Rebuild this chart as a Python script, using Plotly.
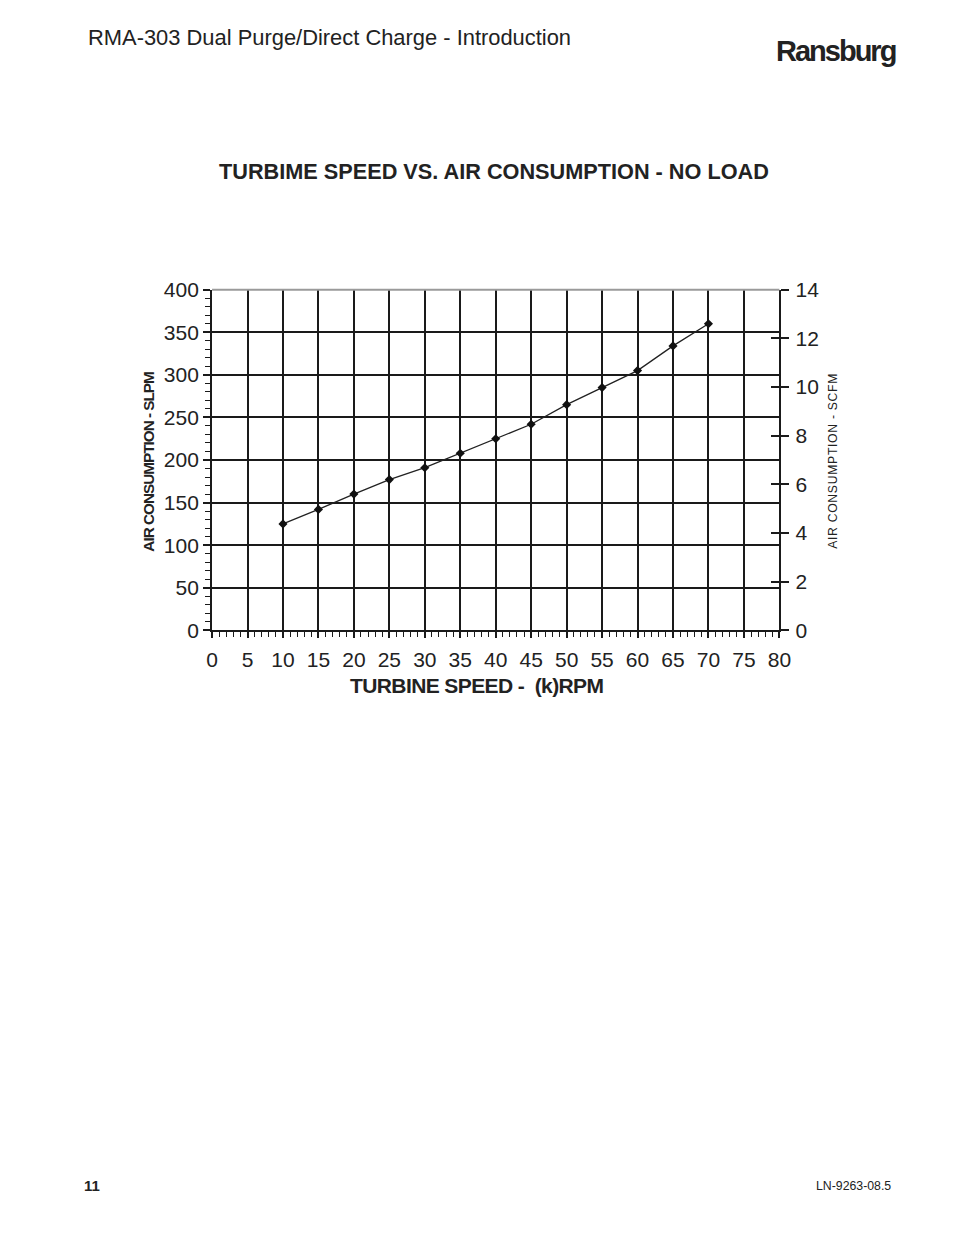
import plotly.graph_objects as go

speed_krpm = [10, 15, 20, 25, 30, 35, 40, 45, 50, 55, 60, 65, 70]
air_slpm = [125, 142, 160, 177, 191, 208, 225, 242, 265, 285, 305, 334, 360]

x_ticks = list(range(0, 85, 5))
y_left_ticks = list(range(0, 450, 50))
y_right_ticks = list(range(0, 16, 2))

FONT = "Liberation Sans, Arial, sans-serif"

W, H = 938, 1219
S = 0.982          # observed screenshot scale
BX, BY = 13.7, 19.1  # observed screenshot offsets


def px(x):
    return ((x - BX) / S) / W


def py(y):
    return 1 - ((y - BY) / S) / H


x0, x1 = px(212), px(780)
y0, y1 = py(630), py(289)

fig = go.Figure()
fig.add_trace(go.Scatter(
    x=speed_krpm, y=air_slpm, mode="lines+markers",
    line=dict(color="#222222", width=1.3),
    marker=dict(symbol="diamond", size=7, color="#111111"),
    showlegend=False, cliponaxis=False,
))
# invisible traces to activate the right axes
fig.add_trace(go.Scatter(x=[0], y=[0], yaxis="y2", mode="markers",
                         marker=dict(opacity=0), showlegend=False, hoverinfo="skip"))
fig.add_trace(go.Scatter(x=[0], y=[0], yaxis="y3", mode="markers",
                         marker=dict(opacity=0), showlegend=False, hoverinfo="skip"))

fig.update_layout(
    width=W, height=H, margin=dict(l=0, r=0, t=0, b=0),
    paper_bgcolor="white", plot_bgcolor="white",
    font=dict(family=FONT, color="#222222"),
    xaxis=dict(
        domain=[x0, x1], range=[0, 80], tickvals=x_ticks,
        showgrid=True, gridcolor="#1a1a1a", gridwidth=2,
        showline=True, linecolor="#1a1a1a", linewidth=2,
        ticks="outside", ticklen=6, tickwidth=1.5, tickcolor="#1a1a1a",
        minor=dict(dtick=1, ticks="outside", ticklen=5, tickwidth=1.2,
                   tickcolor="#1a1a1a", showgrid=False),
        tickfont=dict(family=FONT, size=21, color="#222222"),
        ticklabelstandoff=3,
        zeroline=False, anchor="y",
    ),
    yaxis=dict(
        domain=[y0, y1], range=[0, 400], tickvals=y_left_ticks,
        showgrid=True, gridcolor="#1a1a1a", gridwidth=2,
        showline=True, linecolor="#1a1a1a", linewidth=2,
        ticks="outside", ticklen=7, tickwidth=1.5, tickcolor="#1a1a1a",
        minor=dict(dtick=10, ticks="outside", ticklen=5, tickwidth=1.2,
                   tickcolor="#1a1a1a", showgrid=False),
        tickfont=dict(family=FONT, size=21, color="#222222"),
        zeroline=False, anchor="x",
    ),
    yaxis2=dict(
        domain=[y0, y1], range=[0, 14], tickvals=y_right_ticks,
        overlaying="y", side="right", anchor="x",
        showgrid=False, zeroline=False,
        showline=True, linecolor="#1a1a1a", linewidth=2,
        ticks="outside", ticklen=8, tickwidth=1.5, tickcolor="#1a1a1a",
        tickfont=dict(family=FONT, size=21, color="#222222"),
        ticklabelstandoff=2,
    ),
    yaxis3=dict(
        domain=[y0, y1], range=[0, 14], tickvals=y_right_ticks,
        overlaying="y", side="right", anchor="x",
        showgrid=False, zeroline=False, showticklabels=False,
        ticks="inside", ticklen=8, tickwidth=1.5, tickcolor="#1a1a1a",
    ),
    shapes=[
        dict(type="line", xref="paper", yref="paper", x0=x0, x1=x1, y0=y1, y1=y1,
             line=dict(color="#9a9a9a", width=2)),
    ],
)

ann = [
    dict(text="RMA-303 Dual Purge/Direct Charge - Introduction", x=px(86), y=py(37),
         xanchor="left", yanchor="middle", font=dict(family=FONT, size=21.9, color="#222222")),
    dict(text="<span style='letter-spacing:-2px'><b>Ransburg</b></span>", x=px(899), y=py(50),
         xanchor="right", yanchor="middle", font=dict(family=FONT, size=29, color="#222222")),
    dict(text="<b>TURBIME SPEED VS. AIR CONSUMPTION - NO LOAD</b>", x=px(494), y=py(171),
         xanchor="center", yanchor="middle", font=dict(family=FONT, size=21.7, color="#222222")),
    dict(text="<span style='letter-spacing:-1px'><b>AIR CONSUMPTION - SLPM</b></span>",
         x=px(148), y=py(461), textangle=-90,
         xanchor="center", yanchor="middle", font=dict(family=FONT, size=15.3, color="#222222")),
    dict(text="<span style='letter-spacing:0.7px'>AIR CONSUMPTION - SCFM</span>",
         x=px(833), y=py(460), textangle=-90,
         xanchor="center", yanchor="middle", font=dict(family=FONT, size=12.2, color="#222222")),
    dict(text="<span style='letter-spacing:-0.6px'><b>TURBINE SPEED -  (k)RPM</b></span>",
         x=px(477), y=py(685),
         xanchor="center", yanchor="middle", font=dict(family=FONT, size=21, color="#222222")),
    dict(text="<b>11</b>", x=px(82), y=py(1186), xanchor="left", yanchor="middle",
         font=dict(family=FONT, size=15, color="#222222")),
    dict(text="LN-9263-08.5", x=px(894), y=py(1186), xanchor="right", yanchor="middle",
         font=dict(family=FONT, size=12.3, color="#222222")),
]
for a in ann:
    a.update(xref="paper", yref="paper", showarrow=False)
fig.update_layout(annotations=ann)

fig.write_html("out.html")
